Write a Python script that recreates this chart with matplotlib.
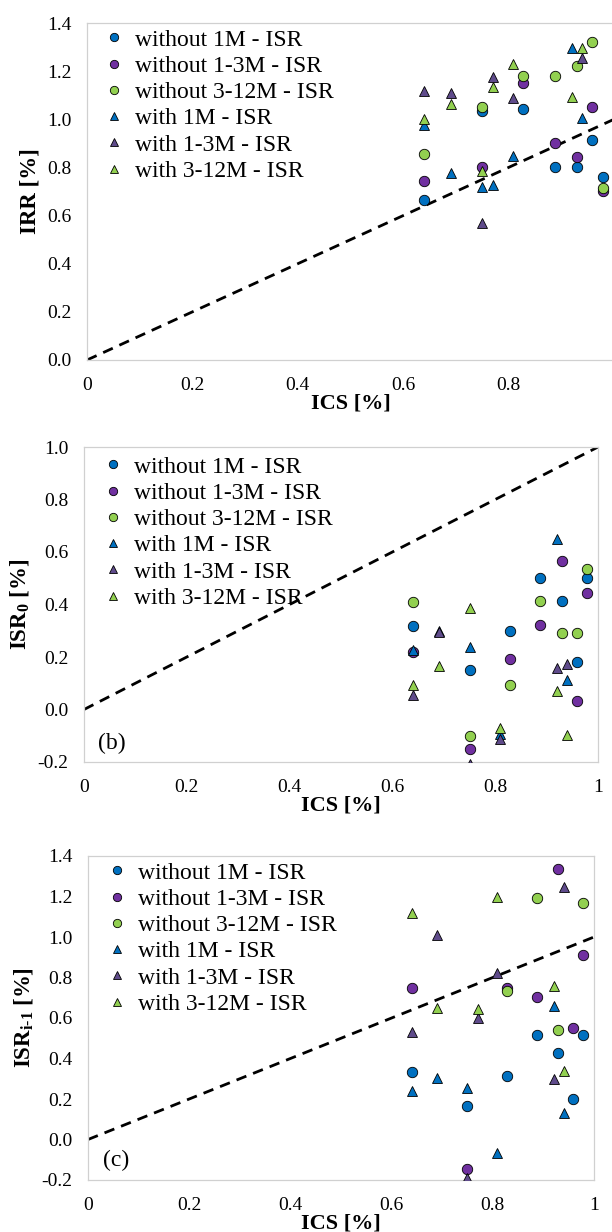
import numpy as np
import matplotlib
matplotlib.use("Agg")
import matplotlib.pyplot as plt

plt.rcParams['font.family'] = ['Liberation Serif', 'DejaVu Serif']
plt.rcParams['mathtext.fontset'] = 'custom'
plt.rcParams['mathtext.rm'] = 'Liberation Serif'
plt.rcParams['mathtext.bf'] = 'Liberation Serif:bold'
plt.rcParams['mathtext.it'] = 'Liberation Serif:italic'

nan = np.nan

# ---------------- data ----------------
# ICS positions (x) of the "without" (circles) and "with" (triangles) cases
ics_without = [0.64, 0.75, 0.828, 0.888, 0.929, 0.959, 0.979]
ics_with = [0.64, 0.69, 0.75, 0.771, 0.809, 0.92, 0.94]

series_labels = ["without 1M - ISR", "without 1-3M - ISR", "without 3-12M - ISR",
                 "with 1M - ISR", "with 1-3M - ISR", "with 3-12M - ISR"]

# Panel (a): IRR
irr_wo_1m = [0.663, 1.034, 1.042, 0.803, 0.803, 0.914, 0.762]
irr_wo_13m = [0.744, 0.803, 1.152, 0.902, 0.843, 1.052, 0.702]
irr_wo_312m = [0.855, 1.052, 1.181, 1.181, 1.223, 1.322, 0.716]
irr_w_1m = [0.976, 0.776, 0.720, 0.727, 0.849, 1.297, 1.007]
irr_w_13m = [1.119, 1.111, 0.570, 1.177, 1.087, nan, 1.253]
irr_w_312m = [1.000, 1.064, 0.784, 1.135, 1.228, 1.094, 1.297]

# Panel (b): ISR_0
isr0_wo_1m = [0.320, 0.150, 0.299, 0.502, 0.412, 0.180, 0.502]
isr0_wo_13m = [0.220, -0.150, 0.192, 0.323, 0.564, 0.033, 0.442]
isr0_wo_312m = [0.410, -0.100, 0.094, 0.414, 0.292, 0.292, 0.537]
isr0_w_1m = [0.226, 0.300, 0.239, nan, -0.094, 0.649, 0.113]
isr0_w_13m = [0.057, 0.295, -0.207, nan, -0.112, 0.160, 0.175]
isr0_w_312m = [0.094, 0.164, 0.386, nan, -0.072, 0.072, -0.097]

# Panel (c): ISR_{i-1}
isr1_wo_1m = [0.335, 0.165, 0.314, 0.516, 0.426, 0.199, 0.516]
isr1_wo_13m = [0.747, -0.147, 0.750, 0.705, 1.336, 0.549, 0.911]
isr1_wo_312m = [nan, nan, 0.733, 1.191, 0.541, nan, 1.169]
isr1_w_1m = [0.241, 0.302, 0.253, nan, -0.065, 0.659, 0.129]
isr1_w_13m = [0.532, 1.010, -0.192, 0.601, 0.824, 0.297, 1.245]
isr1_w_312m = [1.120, 0.648, nan, 0.643, 1.199, 0.758, 0.340]

# reference line y = x
ref_x = [0, 1]
ref_y = [0, 1]

x_ticks_full = [0, 0.2, 0.4, 0.6, 0.8, 1.0]
x_tick_labels_full = ["0", "0.2", "0.4", "0.6", "0.8", "1"]

# ---------------- style ----------------
colors = ["#0070C0", "#7030A0", "#92D050", "#0070C0", "#5F4B8B", "#92D050"]
markers = ["o", "o", "o", "^", "^", "^"]
W, H = 612, 1232

fig = plt.figure(figsize=(W / 100, H / 100), dpi=100)


def px_axes(left, right, top, bottom):
    return fig.add_axes([left / W, 1 - bottom / H, (right - left) / W, (bottom - top) / H])


def draw_panel(ax, ys, ylim, yticks, ylabel, xticks, xticklabels, legend_px, tag=None):
    xs = [ics_without] * 3 + [ics_with] * 3
    ax.plot(ref_x, ref_y, color="black", lw=2.0, dashes=(3.8, 2.6), zorder=2)
    for i in range(6):
        ax.plot(xs[i], ys[i], linestyle="none", marker=markers[i], ms=7.5,
                mfc=colors[i], mec="black", mew=0.6, label=series_labels[i], zorder=3)
    ax.set_xlim(0, 1)
    ax.set_ylim(*ylim)
    ax.set_yticks(yticks)
    ax.set_yticklabels([f"{v:.1f}" for v in yticks])
    ax.set_xticks(xticks)
    ax.set_xticklabels(xticklabels)
    ax.tick_params(axis="both", length=0, labelsize=14)
    ax.tick_params(axis="y", pad=11)
    ax.tick_params(axis="x", pad=12)
    for s in ax.spines.values():
        s.set_color("#D0D0D0")
        s.set_linewidth(0.9)
    ax.set_xlabel("ICS [%]", fontsize=16, fontweight="bold", labelpad=0)
    ax.set_ylabel(ylabel, fontsize=16.5, fontweight="bold", labelpad=5)
    ax.legend(loc="upper left", bbox_to_anchor=(legend_px[0] / W, 1 - legend_px[1] / H),
              bbox_transform=fig.transFigure, frameon=False, fontsize=17,
              handlelength=0.8, handletextpad=0.45, labelspacing=0.2,
              borderpad=0, borderaxespad=0, markerscale=0.8)
    if tag:
        ax.text(0.055, 0.06, tag, transform=ax.transAxes, fontsize=17,
                ha="center", va="center")
    return ax


ax_a = px_axes(87, 614, 23, 360)
draw_panel(ax_a, [irr_wo_1m, irr_wo_13m, irr_wo_312m, irr_w_1m, irr_w_13m, irr_w_312m],
           (0, 1.4), [0, 0.2, 0.4, 0.6, 0.8, 1.0, 1.2, 1.4], "IRR [%]",
           x_ticks_full[:-1], x_tick_labels_full[:-1], (105, 29))

ax_b = px_axes(84, 598, 447, 762)
draw_panel(ax_b, [isr0_wo_1m, isr0_wo_13m, isr0_wo_312m, isr0_w_1m, isr0_w_13m, isr0_w_312m],
           (-0.2, 1.0), [-0.2, 0.0, 0.2, 0.4, 0.6, 0.8, 1.0], r"ISR$_{\mathbf{0}}$ [%]",
           x_ticks_full, x_tick_labels_full, (104, 456), tag="(b)")

ax_c = px_axes(88, 594, 856, 1180)
draw_panel(ax_c, [isr1_wo_1m, isr1_wo_13m, isr1_wo_312m, isr1_w_1m, isr1_w_13m, isr1_w_312m],
           (-0.2, 1.4), [-0.2, 0.0, 0.2, 0.4, 0.6, 0.8, 1.0, 1.2, 1.4], "ISR$_{\\mathbf{i\u20101}}$ [%]",
           x_ticks_full, x_tick_labels_full, (108, 862), tag="(c)")

fig.savefig("out.png", dpi=100)
